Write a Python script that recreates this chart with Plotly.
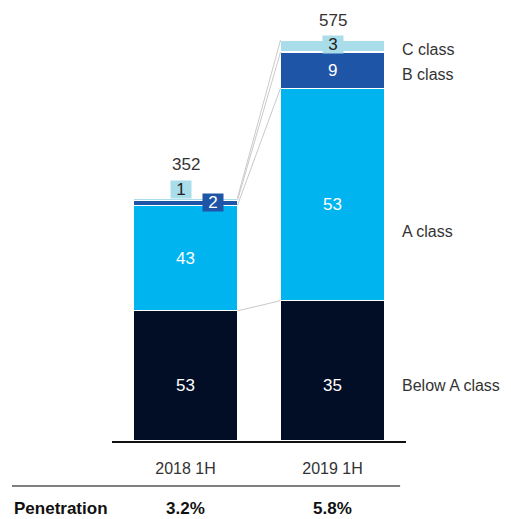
import plotly.graph_objects as go

periods = ["2018 1H", "2019 1H"]
totals = [352, 575]
classes = ["Below A class", "A class", "B class", "C class"]
share_below_a = [53, 35]
share_a = [43, 53]
share_b = [2, 9]
share_c = [1, 3]
penetration = ["3.2%", "5.8%"]

shares = [share_below_a, share_a, share_b, share_c]
colors = ["#020e26", "#00b5ef", "#1f55a7", "#a9dde9"]
text_colors = ["white", "white", "white", "#222"]
FONT = "Liberation Sans, Arial, sans-serif"
BAR_W = 0.707

fig = go.Figure()

# stacked segments, sized as share of each period's total
seg_vals = [[t * s / 100 for t, s in zip(totals, sh)] for sh in shares]
for name, vals, col in zip(classes, seg_vals, colors):
    fig.add_bar(x=[0, 1], y=vals, name=name, width=BAR_W, marker_color=col,
                marker_line=dict(color="white", width=1.2), hoverinfo="skip")

# cumulative tops for connectors and labels
cum = []
run = [0.0, 0.0]
for vals in seg_vals:
    run = [r + v for r, v in zip(run, vals)]
    cum.append(list(run))

# grey connector lines between matching segment tops
for tops in cum:
    fig.add_scatter(x=[BAR_W / 2, 1 - BAR_W / 2], y=tops, mode="lines",
                    line=dict(color="#c9c9c9", width=1), hoverinfo="skip")

# right-hand class label heights (data units)
label_y = [80, 301, 526, 562]

ann = []
for i, (sh, vals) in enumerate(zip(shares, seg_vals)):
    for j in range(2):
        mid = cum[i][j] - vals[j] / 2
        a = dict(x=j, y=mid, text=str(sh[j]), showarrow=False,
                 font=dict(family=FONT, size=17, color=text_colors[i]))
        if i == 0:
            a.update(y=label_y[0])  # bottom values line up with their row label
        elif i == 1 and j == 1:
            a.update(yshift=-10)
        if sh[j] < 5:
            a.update(bgcolor=colors[i], width=20, height=17, borderpad=0)
            if j == 0 and i == 3:
                a.update(xshift=-5, yshift=10)
            elif j == 0 and i == 2:
                a.update(xshift=27)
            elif j == 1:
                a.update(yshift=2)
        ann.append(a)

# totals above bars (2018 sits higher to clear the small "1" box)
total_shift = [33, 20]
for j, t in enumerate(totals):
    ann.append(dict(x=j, y=cum[-1][j], text=str(t), showarrow=False,
                    yshift=total_shift[j],
                    font=dict(family=FONT, size=17, color="#333")))

for name, y in zip(classes, label_y):
    ann.append(dict(x=0.98, xref="paper", y=y, text=name, showarrow=False,
                    xanchor="left", font=dict(family=FONT, size=16, color="#333")))

# penetration row
ann.append(dict(x=-0.34, xref="paper", y=-0.197, yref="paper", text="<b>Penetration</b>",
                showarrow=False, xanchor="left",
                font=dict(family=FONT, size=17, color="#111")))
for j, p in enumerate(penetration):
    ann.append(dict(x=j, y=-0.197, yref="paper", text=f"<b>{p}</b>", showarrow=False,
                    font=dict(family=FONT, size=17, color="#111")))

fig.add_shape(type="line", xref="paper", yref="paper", x0=-0.34, x1=0.98,
              y0=-0.112, y1=-0.112, line=dict(color="#555", width=1.5))

# page body has an 8px margin, so the figure is drawn 8px smaller / shifted
fig.update_layout(
    barmode="stack", width=503, height=511, showlegend=False,
    margin=dict(l=104, r=105, t=32, b=78),
    plot_bgcolor="white", paper_bgcolor="white",
    annotations=ann,
    xaxis=dict(range=[-0.5, 1.5], tickvals=[0, 1], ticktext=periods, showgrid=False,
               zeroline=False, showline=True, linecolor="#111", linewidth=1.5,
               ticks="outside", ticklen=12, tickcolor="rgba(0,0,0,0)",
               tickfont=dict(family=FONT, size=16, color="#333")),
    yaxis=dict(range=[0, 575], visible=False),
)

fig.write_html("out.html")
